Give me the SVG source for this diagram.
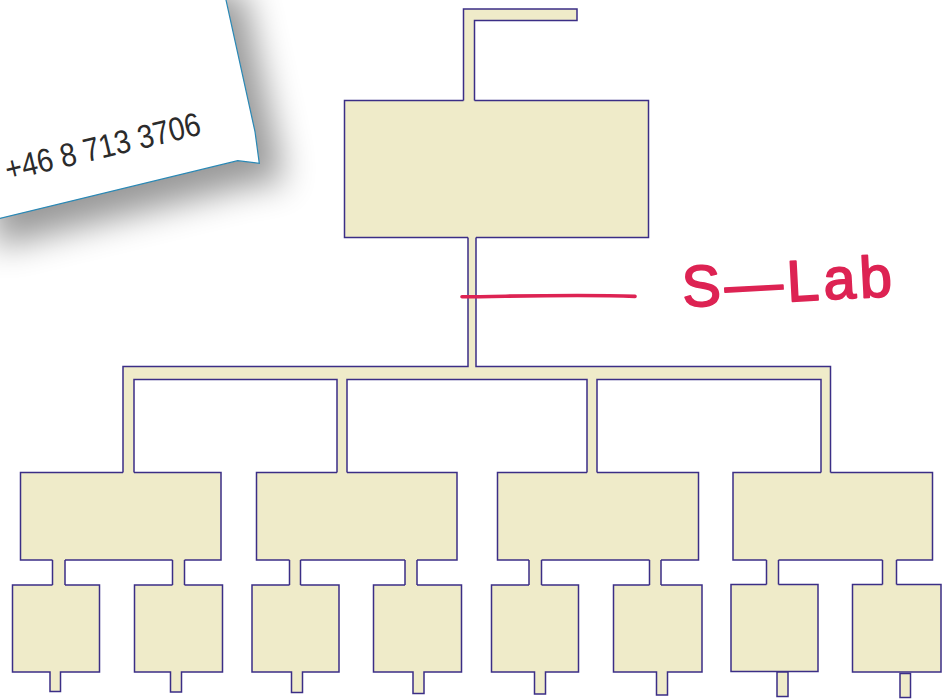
<svg xmlns="http://www.w3.org/2000/svg" width="944" height="700" viewBox="0 0 944 700">
  <defs>
    <style>
      .box { fill: #efebc9; stroke: #3b2e86; stroke-width: 1.5; stroke-linejoin: miter; }
      .pipe-fill { fill: #efebc9; stroke: none; }
      .pipe-edge { fill: none; stroke: #3b2e86; stroke-width: 1.5; stroke-linejoin: miter; }
      .ink { fill: none; stroke: #dd2353; stroke-linecap: round; stroke-linejoin: round; }
      .phone { font-family: "Liberation Sans", Arial, sans-serif; font-size: 33px; fill: #2b2b2b; }
      .hand { font-family: "Liberation Sans", Arial, sans-serif; font-size: 58px; fill: #dd2353; stroke: #dd2353; stroke-width: 1.8; stroke-linejoin: round; }
    </style>
    <filter id="softShadow" x="-40%" y="-40%" width="180%" height="180%">
      <feGaussianBlur stdDeviation="17"/>
    </filter>
  </defs>

  <rect width="944" height="700" fill="#ffffff"/>

  <!-- paper note in the top-left corner -->
  <g id="note">
    <polygon points="-30,-30 219.4,-30 255,131.7 259.3,163.3 237.7,160.7 -30,225.6"
             transform="translate(24,22)" fill="#000" opacity="0.4" filter="url(#softShadow)"/>
    <polygon points="-30,-30 219.4,-30 255,131.7 259.3,163.3 237.7,160.7 -30,225.6" fill="#ffffff"/>
    <polyline points="219.4,-30 255,131.7 259.3,163.3 237.7,160.7 -30,225.6"
              fill="none" stroke="#2a88b5" stroke-width="1.2"/>
    <text class="phone" x="8" y="181" textLength="200" lengthAdjust="spacingAndGlyphs" transform="rotate(-13.5 8 181)">+46 8 713 3706</text>
  </g>

  <!-- nodes -->
  <g id="node-root"><rect class="box" x="344.5" y="100.5" width="304" height="137"/></g>

  <g id="node-b1"><rect class="box" x="20.5" y="472.5" width="200.5" height="87.5"/></g>
  <g id="node-b2"><rect class="box" x="256.5" y="472.5" width="200.5" height="87.5"/></g>
  <g id="node-b3"><rect class="box" x="497.5" y="472.5" width="201" height="87.5"/></g>
  <g id="node-b4"><rect class="box" x="733" y="472.5" width="199.5" height="87.5"/></g>

  <g id="leaf-1"><path class="box" d="M12.5,585 H99.5 V672 H60.5 V691.5 H50 V672 H12.5 Z"/></g>
  <g id="leaf-2"><path class="box" d="M134.5,585 H222.5 V672 H181.5 V692 H170.5 V672 H134.5 Z"/></g>
  <g id="leaf-3"><path class="box" d="M252,585 H339 V672 H302.5 V692.5 H291.5 V672 H252 Z"/></g>
  <g id="leaf-4"><path class="box" d="M373.5,585 H461.5 V672 H424 V693.5 H413 V672 H373.5 Z"/></g>
  <g id="leaf-5"><path class="box" d="M491.5,585 H578.5 V672 H545.5 V694 H534.5 V672 H491.5 Z"/></g>
  <g id="leaf-6"><path class="box" d="M613.5,585 H702 V672 H667.5 V695 H656.5 V672 H613.5 Z"/></g>
  <g id="leaf-7">
    <rect class="box" x="731" y="584.5" width="87" height="87"/>
    <rect class="box" x="777" y="672" width="11" height="24.5"/>
  </g>
  <g id="leaf-8">
    <rect class="box" x="852.5" y="584.5" width="88.5" height="87.5"/>
    <rect class="box" x="900" y="673.5" width="10.5" height="24"/>
  </g>

  <!-- connectors: fill first to open the box borders, then the pipe walls -->
  <g id="connectors">
    <!-- feed into the root -->
    <polygon class="pipe-fill" points="463.5,102 463.5,9 577,9 577,20.5 474.5,20.5 474.5,102"/>
    <path class="pipe-edge" d="M463.5,100.5 V9 H577 V20.5 H474.5 V100.5"/>

    <!-- root to the four branches -->
    <polygon class="pipe-fill" points="468,236 468,366.5 123,366.5 123,474 134,474 134,379.5 337,379.5 337,474 347,474 347,379.5 587,379.5 587,474 597,474 597,379.5 821,379.5 821,474 830.5,474 830.5,366.5 476,366.5 476,236"/>
    <path class="pipe-edge" d="M468,237.5 V366.5 H123 V472.5 M134,472.5 V379.5 H337 V472.5 M347,472.5 V379.5 H587 V472.5 M597,472.5 V379.5 H821 V472.5 M830.5,472.5 V366.5 H476 V237.5"/>

    <!-- branches to leaves -->
    <g>
      <rect class="pipe-fill" x="52.5" y="558.5" width="12.5" height="28"/>
      <rect class="pipe-fill" x="172.5" y="558.5" width="12" height="28"/>
      <rect class="pipe-fill" x="289.5" y="558.5" width="11" height="28"/>
      <rect class="pipe-fill" x="405" y="558.5" width="12" height="28"/>
      <rect class="pipe-fill" x="529" y="558.5" width="12.5" height="28"/>
      <rect class="pipe-fill" x="649.5" y="558.5" width="11.5" height="28"/>
      <rect class="pipe-fill" x="766.5" y="558.5" width="12" height="28"/>
      <rect class="pipe-fill" x="882.5" y="558.5" width="14" height="28"/>
      <path class="pipe-edge" d="M52.5,560 V585 M65,560 V585 M172.5,560 V585 M184.5,560 V585 M289.5,560 V585 M300.5,560 V585 M405,560 V585 M417,560 V585 M529,560 V585 M541.5,560 V585 M649.5,560 V585 M661,560 V585 M766.5,560 V584.5 M778.5,560 V584.5 M882.5,560 V584.5 M896.5,560 V584.5"/>
    </g>
  </g>

  <!-- hand-written annotation -->
  <g id="label-slab">
    <path class="ink" stroke-width="3.6" d="M462,296.8 C520,296.2 580,294.2 635,296.4"/>
    <text class="hand" x="683" y="307" textLength="210" lengthAdjust="spacing" transform="rotate(-3 683 307)">S—Lab</text>
  </g>
</svg>
